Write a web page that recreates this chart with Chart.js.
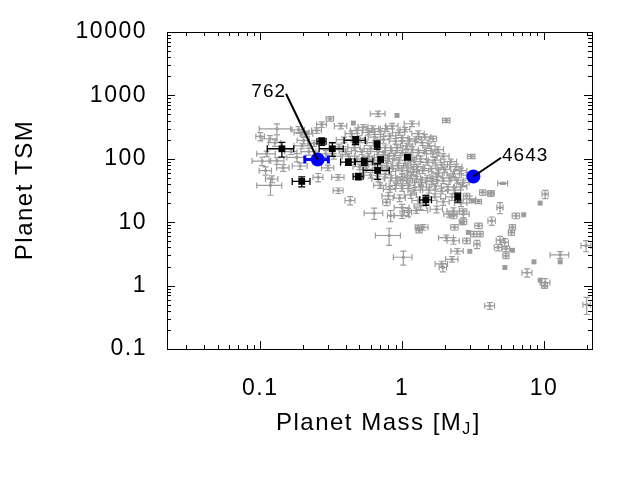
<!DOCTYPE html>
<html>
<head>
<meta charset="utf-8">
<script src="https://cdn.jsdelivr.net/npm/chart.js@4.4.1/dist/chart.umd.min.js"></script>
<style>html,body{margin:0;background:#fff}</style>
</head>
<body>
<canvas id="c" width="640" height="480"></canvas>
<script>
// known planets, gray: [mass (MJ), TSM, rel. mass error, rel. TSM error]
// a relative error of 0 means the point was drawn without error bars
const knownPlanets = [
  [0.100, 225, 0.07, 0.15], [0.131, 297, 0.25, 0.2], [0.117, 207, 0.12, 0.12],
  [0.127, 179, 0.1, 0.12], [0.111, 120, 0.15, 0.1], [0.131, 93, 0.12, 0.12],
  [0.109, 65, 0.1, 0.15], [0.121, 48, 0.1, 0.12], [0.118, 38, 0.2, 0.3],
  [0.103, 92, 0.15, 0.15], [0.145, 72, 0.1, 0.12], [0.181, 105, 0.15, 0.15],
  [0.191, 77, 0.12, 0.12], [0.186, 287, 0.1, 0.12], [0.197, 260, 0.12, 0.12],
  [0.213, 248, 0.1, 0.1], [0.202, 195, 0.1, 0.12], [0.197, 160, 0.12, 0.1],
  [0.165, 130, 0.1, 0.1], [0.22, 130, 0.12, 0.12], [0.24, 175, 0.1, 0.1],
  [0.25, 280, 0.08, 0.1], [0.271, 348, 0.08, 0.1], [0.31, 428, 0.06, 0.08],
  [0.256, 51, 0.08, 0.15], [0.30, 72, 0.1, 0.1], [0.29, 120, 0.12, 0.12],
  [0.33, 110, 0.12, 0.1], [0.354, 51, 0.1, 0.1], [0.355, 31.5, 0.08, 0.1],
  [0.43, 22, 0.08, 0.15], [0.37, 330, 0.1, 0.1], [0.453, 366, 0, 0],
  [0.44, 250, 0.1, 0.1], [0.532, 316, 0.08, 0.1], [0.677, 513, 0.12, 0.1],
  [0.92, 483, 0, 0], [1.175, 357, 0.12, 0.1], [2.05, 403, 0.06, 0.08],
  [1.65, 207, 0.06, 0.1], [0.39, 200, 0.12, 0.1], [0.36, 155, 0.15, 0.1],
  [0.40, 130, 0.1, 0.1],
  [0.48, 280, 0.1, 0.1], [0.58, 260, 0.1, 0.08], [0.62, 300, 0.1, 0.1],
  [0.70, 270, 0.08, 0.1], [0.78, 300, 0.1, 0.1], [0.85, 330, 0.1, 0.1],
  [0.95, 260, 0.1, 0.1], [1.05, 290, 0.08, 0.08], [1.3, 250, 0.1, 0.1],
  [1.45, 220, 0.1, 0.1], [0.50, 210, 0.1, 0.1], [0.56, 180, 0.12, 0.1],
  [0.64, 220, 0.1, 0.1], [0.74, 200, 0.1, 0.12], [0.82, 230, 0.1, 0.1],
  [0.90, 190, 0.1, 0.1], [1.0, 215, 0.1, 0.1], [1.12, 190, 0.1, 0.1],
  [1.25, 205, 0.1, 0.08], [1.38, 180, 0.1, 0.1], [1.55, 160, 0.1, 0.1],
  [1.78, 140, 0.1, 0.1], [0.46, 150, 0.1, 0.1], [0.52, 130, 0.1, 0.1],
  [0.60, 145, 0.1, 0.1], [0.68, 130, 0.12, 0.1], [0.76, 150, 0.1, 0.1],
  [0.84, 135, 0.1, 0.1], [0.92, 150, 0.1, 0.1], [1.0, 125, 0.1, 0.1],
  [1.08, 160, 0.1, 0.1], [1.18, 140, 0.1, 0.1], [1.3, 125, 0.1, 0.1],
  [1.45, 135, 0.1, 0.1], [1.65, 120, 0.1, 0.1], [1.95, 110, 0.1, 0.1],
  [0.42, 110, 0.1, 0.1], [0.48, 100, 0.1, 0.1], [0.58, 110, 0.1, 0.1],
  [0.63, 95, 0.1, 0.1], [0.74, 115, 0.1, 0.1], [0.80, 100, 0.1, 0.1],
  [0.88, 112, 0.1, 0.1], [0.95, 95, 0.1, 0.1], [1.05, 85, 0.1, 0.1],
  [1.15, 105, 0.1, 0.1], [1.22, 90, 0.1, 0.1], [1.35, 100, 0.1, 0.1],
  [1.5, 88, 0.1, 0.1], [1.7, 95, 0.1, 0.1], [1.9, 80, 0.1, 0.1],
  [2.2, 90, 0.1, 0.1], [2.4, 75, 0.1, 0.1], [0.50, 75, 0.1, 0.1],
  [0.56, 68, 0.1, 0.1], [0.64, 80, 0.1, 0.1], [0.72, 72, 0.1, 0.1],
  [0.78, 85, 0.1, 0.1], [0.86, 70, 0.1, 0.1], [0.93, 78, 0.1, 0.1],
  [1.0, 65, 0.1, 0.1], [1.1, 72, 0.1, 0.1], [1.2, 62, 0.1, 0.1],
  [1.28, 75, 0.1, 0.1], [1.4, 65, 0.1, 0.1], [1.6, 70, 0.1, 0.1],
  [1.8, 60, 0.1, 0.1], [2.0, 68, 0.1, 0.1], [2.3, 58, 0.1, 0.1],
  [2.6, 65, 0.1, 0.1], [2.9, 55, 0.1, 0.1], [0.60, 55, 0.1, 0.1],
  [0.68, 48, 0.1, 0.1], [0.76, 57, 0.1, 0.1], [0.84, 50, 0.1, 0.1],
  [0.92, 45, 0.1, 0.1], [1.0, 52, 0.1, 0.1], [1.08, 45, 0.1, 0.1],
  [1.16, 55, 0.1, 0.1], [1.26, 48, 0.1, 0.1], [1.36, 42, 0.1, 0.1],
  [1.5, 50, 0.1, 0.1], [1.62, 44, 0.1, 0.1], [1.75, 52, 0.1, 0.1],
  [1.95, 45, 0.1, 0.1], [2.15, 50, 0.1, 0.1], [2.45, 46, 0.1, 0.1],
  [2.7, 42, 0.1, 0.1], [0.70, 38, 0.1, 0.1], [0.82, 33, 0.1, 0.1],
  [0.90, 38, 0.1, 0.1], [1.0, 34, 0.1, 0.1], [1.12, 38, 0.1, 0.1],
  [1.22, 32, 0.1, 0.1], [1.35, 36, 0.1, 0.1], [1.55, 32, 0.1, 0.1],
  [1.72, 37, 0.1, 0.1], [1.9, 31, 0.1, 0.1], [2.1, 36, 0.1, 0.1],
  [2.35, 32, 0.1, 0.1], [2.6, 36, 0.1, 0.1], [0.80, 26, 0.1, 0.12],
  [0.96, 24, 0.1, 0.12], [1.15, 27, 0.1, 0.12], [1.3, 22, 0.1, 0.12],
  [1.7, 25, 0.1, 0.12], [1.95, 21, 0.1, 0.12], [2.25, 25, 0.1, 0.12],
  [2.6, 20, 0.1, 0.12], [3.0, 23, 0.1, 0.12], [1.0, 17, 0.12, 0.12],
  [1.35, 18, 0.1, 0.12], [1.75, 16, 0.1, 0.12], [2.3, 15, 0.1, 0.12],
  [2.7, 13.4, 0.1, 0.12], [3.17, 21.8, 0, 0], [3.45, 21.3, 0.05, 0.08],
  [2.85, 26, 0.05, 0.1], [3.7, 29.5, 0.05, 0.1], [4.2, 28.4, 0.05, 0.1],
  [3.07, 109, 0.06, 0.08], [5.13, 41, 0.08, 0.04], [4.25, 28.7, 0.05, 0.1],
  [10.2, 27.7, 0.05, 0.15], [9.4, 20, 0, 0], [4.9, 17, 0.05, 0.2],
  [6.35, 12.6, 0.06, 0.1], [7.2, 13.1, 0, 0], [4.28, 10.5, 0.06, 0.15],
  [6.0, 8.3, 0.05, 0.1], [5.9, 6.9, 0.05, 0.1], [4.9, 5.2, 0.06, 0.15],
  [5.3, 4.8, 0.06, 0.15], [4.75, 4.0, 0.06, 0.12], [5.4, 3.8, 0.06, 0.1],
  [6.0, 3.6, 0, 0], [5.4, 2.95, 0.05, 0.1], [5.3, 1.93, 0, 0],
  [8.5, 2.37, 0, 0], [7.6, 1.6, 0.08, 0.15], [9.4, 1.22, 0, 0],
  [10.2, 1.12, 0.08, 0.15], [10.1, 1.0, 0.05, 0.1], [13.0, 3.06, 0.15, 0.12],
  [13.0, 2.37, 0, 0], [19.8, 4.27, 0.08, 0.2], [20.0, 0.5, 0.06, 0.3],
  [4.15, 0.48, 0.08, 0.12], [2.69, 10.2, 0.06, 0.1], [2.34, 8.3, 0.06, 0.1],
  [3.0, 3.47, 0, 0], [2.3, 5.1, 0.1, 0.12], [2.05, 5.7, 0.12, 0.1],
  [2.85, 5.1, 0.06, 0.1], [2.45, 3.5, 0.1, 0.1], [2.25, 2.6, 0.1, 0.1],
  [1.9, 2.2, 0.1, 0.1], [1.94, 1.93, 0.06, 0.15], [3.46, 8.8, 0.06, 0.1],
  [3.55, 6.5, 0.05, 0.1], [3.2, 6.5, 0.05, 0.1], [3.37, 4.5, 0.05, 0.15],
  [2.93, 6.9, 0, 0], [2.66, 9.8, 0, 0], [2.3, 12.6, 0.06, 0.1],
  [2.14, 13.4, 0.08, 0.1], [2.7, 14.8, 0.06, 0.1], [1.41, 8.3, 0.08, 0.1],
  [1.3, 8.3, 0.05, 0.08], [1.32, 7.4, 0.05, 0.08], [0.81, 6.17, 0.2, 0.3],
  [1.02, 2.8, 0.15, 0.25], [0.635, 13.9, 0.15, 0.2], [0.83, 12.7, 0.05, 0.2],
  [1.0, 12.7, 0.12, 0.1], [1.1, 14.4, 0.06, 0.15], [1.26, 15.3, 0.2, 0.1],
  [0.776, 20.7, 0.06, 0.12]
];

// black points
const blackMass    = [0.142, 0.196, 0.271, 0.322, 0.47, 0.667, 0.418, 0.541, 0.705, 0.491, 0.671, 1.09, 1.47, 2.47];
const blackMassErr = [0.03, 0.028, 0.02, 0.062, 0.08, 0.02, 0.05, 0.08, 0, 0.04, 0.14, 0.04, 0.14, 0.1];
const blackTSM     = [144, 44, 188, 144, 195, 166, 88.5, 90.7, 97.6, 52.6, 65.5, 106, 22.5, 24.8];
const blackTSMErr  = [38, 8, 25, 35, 28, 25, 10, 12, 0, 6, 18, 8, 4, 4];

// highlighted (blue) planets
const blueNames   = ['762', '4643'];
const blueMass    = [0.254, 3.18];
const blueMassErr = [0.048, 0];
const blueTSM     = [97.6, 52.6];
const blueTSMErr  = [10, 0];
// where the label text sits (data coords)
const labelMass  = [0.152, 4.98];
const labelTSM   = [1060, 104];
const labelAlign = ['right', 'left'];

const xTickLabels = ['0.1', '1', '10'];
const yTickLabels = ['0.1', '1', '10', '100', '1000', '10000'];

const FONT = "'Liberation Sans', Arial, sans-serif";
const GRAY = '#9c9c9c';

function logTicks(scale) {
  const ticks = [];
  const lo = Math.floor(Math.log10(scale.min)), hi = Math.ceil(Math.log10(scale.max));
  for (let e = lo; e <= hi; e++) {
    for (let m = 1; m < 10; m++) {
      const v = m * Math.pow(10, e);
      if (v >= scale.min * 0.9999 && v <= scale.max * 1.0001) ticks.push({ value: v });
    }
  }
  scale.ticks = ticks;
}

function labelFor(list, v) {
  const l = list.find(t => Math.abs(Math.log10(parseFloat(t)) - Math.log10(v)) < 1e-6);
  return l || '';
}

const grayData = knownPlanets.map(r => ({ x: r[0], y: r[1], xe: r[0] * r[2], ye: r[1] * r[3] }));
const blackData = blackMass.map((m, i) => ({ x: m, y: blackTSM[i], xe: blackMassErr[i], ye: blackTSMErr[i] }));
const blueData = blueMass.map((m, i) => ({ x: m, y: blueTSM[i], xe: blueMassErr[i], ye: blueTSMErr[i] }));

// error bars, drawn just before each dataset's points
const errorBars = {
  id: 'errorBars',
  beforeDatasetDraw(chart, args) {
    const ds = chart.data.datasets[args.index];
    const x = chart.scales.x, y = chart.scales.y, ctx = chart.ctx, a = chart.chartArea;
    const cap = ds.errCap;
    ctx.save();
    ctx.beginPath();
    ctx.rect(a.left, a.top, a.right - a.left, a.bottom - a.top);
    ctx.clip();
    ctx.strokeStyle = ds.errColor;
    ctx.lineWidth = ds.errWidth;
    ctx.beginPath();
    ds.data.forEach(p => {
      const px = x.getPixelForValue(p.x), py = y.getPixelForValue(p.y);
      if (p.xe > 0) {
        const l = x.getPixelForValue(p.x - p.xe), r = x.getPixelForValue(p.x + p.xe);
        ctx.moveTo(l, py); ctx.lineTo(r, py);
        ctx.moveTo(l, py - cap); ctx.lineTo(l, py + cap);
        ctx.moveTo(r, py - cap); ctx.lineTo(r, py + cap);
      }
      if (p.ye > 0) {
        const b = y.getPixelForValue(p.y - p.ye), t = y.getPixelForValue(p.y + p.ye);
        ctx.moveTo(px, b); ctx.lineTo(px, t);
        ctx.moveTo(px - cap, b); ctx.lineTo(px + cap, b);
        ctx.moveTo(px - cap, t); ctx.lineTo(px + cap, t);
      }
    });
    ctx.stroke();
    ctx.restore();
  }
};

// frame, inward ticks on all sides, labels and axis titles
const frame = {
  id: 'frame',
  beforeDraw(chart) { chart.ctx.letterSpacing = '1.5px'; },
  afterDatasetsDraw(chart) {
    const ctx = chart.ctx, x = chart.scales.x, y = chart.scales.y;
    ctx.save();
    ctx.letterSpacing = '1px';
    ctx.font = '19px ' + FONT;
    ctx.fillStyle = '#000';
    ctx.strokeStyle = '#000';
    ctx.lineWidth = 2;
    ctx.textBaseline = 'middle';
    blueNames.forEach((name, i) => {
      const lx = x.getPixelForValue(labelMass[i]), ly = y.getPixelForValue(labelTSM[i]);
      ctx.beginPath();
      ctx.moveTo(lx, ly);
      ctx.lineTo(x.getPixelForValue(blueMass[i]), y.getPixelForValue(blueTSM[i]));
      ctx.stroke();
      ctx.textAlign = labelAlign[i];
      ctx.fillText(name, labelAlign[i] === 'right' ? lx : lx + 1, ly - 2);
    });
    ctx.restore();
  },
  afterDraw(chart) {
    const ctx = chart.ctx, a = chart.chartArea, sx = chart.scales.x, sy = chart.scales.y;
    ctx.save();
    ctx.strokeStyle = '#000';
    ctx.lineWidth = 1;
    ctx.strokeRect(Math.round(a.left) + 0.5, Math.round(a.top) + 0.5,
      Math.round(a.right - a.left), Math.round(a.bottom - a.top));
    ctx.beginPath();
    sx.ticks.forEach(t => {
      const p = Math.round(sx.getPixelForValue(t.value)) + 0.5;
      const len = t.label ? 8 : 4;
      ctx.moveTo(p, a.bottom); ctx.lineTo(p, a.bottom - len);
      ctx.moveTo(p, a.top); ctx.lineTo(p, a.top + len);
    });
    sy.ticks.forEach(t => {
      const p = Math.round(sy.getPixelForValue(t.value)) + 0.5;
      const len = t.label ? 8 : 4;
      ctx.moveTo(a.left, p); ctx.lineTo(a.left + len, p);
      ctx.moveTo(a.right, p); ctx.lineTo(a.right - len, p);
    });
    ctx.stroke();

    // axis titles
    ctx.fillStyle = '#000';
    ctx.letterSpacing = '1.5px';
    ctx.textBaseline = 'alphabetic';
    ctx.textAlign = 'left';
    const main = 'Planet Mass [M', sub = 'J', tail = ']';
    ctx.font = '24px ' + FONT;
    const w1 = ctx.measureText(main).width, w3 = ctx.measureText(tail).width;
    ctx.font = '16px ' + FONT;
    const w2 = ctx.measureText(sub).width;
    const tx = 378 - (w1 + w2 + w3) / 2;
    ctx.font = '24px ' + FONT;
    ctx.fillText(main, tx, 430);
    ctx.font = '16px ' + FONT;
    ctx.fillText(sub, tx + w1, 434);
    ctx.font = '24px ' + FONT;
    ctx.fillText(tail, tx + w1 + w2 + 1, 430);

    ctx.translate(25, 190);
    ctx.rotate(-Math.PI / 2);
    ctx.textAlign = 'center';
    ctx.textBaseline = 'middle';
    ctx.fillText('Planet TSM', 0, 0);
    ctx.restore();
  }
};

const tickFont = { family: FONT, size: 23 };

new Chart(document.getElementById('c'), {
  type: 'scatter',
  data: {
    datasets: [
      {
        data: grayData, order: 3,
        backgroundColor: GRAY, borderColor: GRAY, borderWidth: 0,
        pointStyle: 'rect',
        pointRadius: c => (c.raw && c.raw.xe === 0 ? 3.5 : 2),
        errColor: GRAY, errWidth: 1.2, errCap: 3
      },
      {
        data: blackData, order: 2,
        backgroundColor: '#000', borderColor: '#000', borderWidth: 0,
        pointStyle: 'rect', pointRadius: 4.8,
        errColor: '#000', errWidth: 1.3, errCap: 3.5
      },
      {
        data: blueData, order: 1,
        backgroundColor: '#0000ff', borderColor: '#0000ff', borderWidth: 0,
        pointStyle: 'circle', pointRadius: 7,
        errColor: '#0000ff', errWidth: 3, errCap: 4
      }
    ]
  },
  options: {
    responsive: false,
    animation: false,
    devicePixelRatio: 1,
    layout: { padding: { top: 32, right: 48, left: 0, bottom: 0 } },
    plugins: { legend: { display: false }, tooltip: { enabled: false } },
    scales: {
      x: {
        type: 'logarithmic', min: 0.022, max: 21.8,
        afterBuildTicks: logTicks,
        afterFit: s => { s.height = 131; },
        grid: { display: false }, border: { display: false },
        ticks: {
          autoSkip: false, maxRotation: 0, minRotation: 0, padding: 18,
          color: '#000', font: tickFont,
          callback: v => labelFor(xTickLabels, v)
        }
      },
      y: {
        type: 'logarithmic', min: 0.1, max: 10000,
        afterBuildTicks: logTicks,
        afterFit: s => { s.width = 167; },
        grid: { display: false }, border: { display: false },
        ticks: {
          autoSkip: false, padding: 12,
          color: '#000', font: tickFont,
          callback: v => labelFor(yTickLabels, v)
        }
      }
    }
  },
  plugins: [errorBars, frame]
});
</script>
</body>
</html>
